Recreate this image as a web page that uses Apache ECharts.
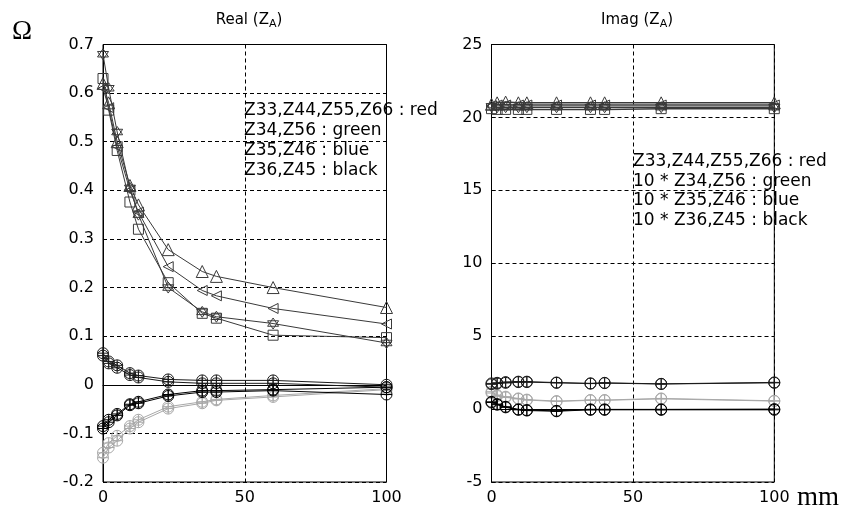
<!DOCTYPE html>
<html><head><meta charset="utf-8">
<script src="https://cdn.jsdelivr.net/npm/echarts@6/dist/echarts.min.js"></script>
<style>html,body{margin:0;padding:0;background:#fff}#c{width:859px;height:515px}</style>
</head><body><div id="c"></div>
<script>
// x positions (mm)
const xPos = [0, 2, 5, 9.5, 12.5, 23, 35, 40, 60, 100];

// Real(Z_A) series
const reTri   = [0.62, 0.58, 0.50, 0.41, 0.37, 0.278, 0.233, 0.223, 0.20, 0.159];
const reLeft  = [0.61, 0.57, 0.49, 0.40, 0.355, 0.243, 0.194, 0.183, 0.157, 0.125];
const reSq    = [0.63, 0.565, 0.482, 0.376, 0.32, 0.21, 0.147, 0.137, 0.102, 0.097];
const reStar  = [0.68, 0.61, 0.52, 0.405, 0.35, 0.20, 0.15, 0.14, 0.126, 0.086];
const reBlue1 = [0.065, 0.048, 0.04, 0.024, 0.019, 0.011, 0.009, 0.009, 0.009, 0.0];
const reBlue2 = [0.06, 0.044, 0.035, 0.02, 0.015, 0.006, 0.003, 0.003, 0.003, -0.005];
const reBlk1  = [-0.09, -0.077, -0.063, -0.042, -0.038, -0.023, -0.015, -0.015, -0.012, -0.02];
const reBlk2  = [-0.085, -0.072, -0.06, -0.04, -0.035, -0.02, -0.012, -0.012, -0.01, -0.005];
const reGrn1  = [-0.15, -0.129, -0.115, -0.09, -0.077, -0.049, -0.038, -0.032, -0.025, -0.01];
const reGrn2  = [-0.14, -0.12, -0.105, -0.085, -0.072, -0.045, -0.035, -0.03, -0.022, -0.008];

// Imag(Z_A) series
const imTri   = [20.9, 21.0, 21.05, 21.0, 21.0, 21.0, 21.0, 21.0, 21.0, 21.0];
const imLeft  = [20.8, 20.85, 20.85, 20.85, 20.85, 20.85, 20.85, 20.85, 20.85, 20.85];
const imSq    = [20.6, 20.55, 20.55, 20.55, 20.55, 20.55, 20.55, 20.55, 20.6, 20.6];
const imStar  = [20.75, 20.7, 20.7, 20.7, 20.7, 20.7, 20.7, 20.7, 20.7, 20.7];
const imBlue1 = [1.76, 1.8, 1.85, 1.88, 1.88, 1.82, 1.76, 1.8, 1.73, 1.83];
const imBlue2 = [1.7, 1.75, 1.8, 1.85, 1.85, 1.8, 1.75, 1.78, 1.72, 1.8];
const imBlk1  = [0.5, 0.34, 0.16, -0.02, -0.07, -0.12, -0.02, -0.02, -0.02, 0.0];
const imBlk2  = [0.45, 0.3, 0.12, -0.05, -0.1, -0.15, -0.05, -0.05, -0.05, -0.05];
const imGrn1  = [1.19, 0.96, 0.85, 0.73, 0.65, 0.55, 0.62, 0.62, 0.73, 0.57];
const imGrn2  = [1.1, 0.9, 0.8, 0.7, 0.62, 0.52, 0.6, 0.6, 0.7, 0.55];

// tick labels
const xTicks = [0, 50, 100];
const reTicks = [-0.2, -0.1, 0, 0.1, 0.2, 0.3, 0.4, 0.5, 0.6, 0.7];
const imTicks = [-5, 0, 5, 10, 15, 20, 25];

const legendRe = ['Z33,Z44,Z55,Z66 : red', 'Z34,Z56 : green', 'Z35,Z46 : blue', 'Z36,Z45 : black'];
const legendIm = ['Z33,Z44,Z55,Z66 : red', '10 * Z34,Z56 : green', '10 * Z35,Z46 : blue', '10 * Z36,Z45 : black'];

const SYM = {
  tri: 'triangle',
  left: 'path://M0,5 L10,0 L10,10 Z',
  sq: 'rect',
  star: 'path://M5,0 L9.33,7.5 L0.67,7.5 Z M5,10 L9.33,2.5 L0.67,2.5 Z',
  cplus: 'path://M10,5 A5,5 0 1,1 0,5 A5,5 0 1,1 10,5 Z M0,5 L10,5 M5,0 L5,10'
};

function mk(vals, idx, sym, color, lw, size) {
  return {
    type: 'line', xAxisIndex: idx, yAxisIndex: idx,
    data: xPos.map((x, i) => [x, vals[i]]),
    symbol: SYM[sym], symbolSize: size || 10, showSymbol: true,
    lineStyle: { color: color, width: lw || 1 },
    itemStyle: { color: 'rgba(0,0,0,0)', borderColor: color, borderWidth: 1 },
    emphasis: { disabled: true }, animation: false, z: 3
  };
}

const DARK = '#3a3a3a', BLK = '#000000', GRAY = '#a8a8a8', BLUE = '#1a1a1a';
const series = [
  mk(reTri, 0, 'tri', DARK, 1, 12), mk(reLeft, 0, 'left', DARK, 1, 10),
  mk(reSq, 0, 'sq', DARK, 1, 10), mk(reStar, 0, 'star', DARK, 1, 11),
  mk(reGrn1, 0, 'cplus', GRAY, 1, 11), mk(reGrn2, 0, 'cplus', GRAY, 1, 11),
  mk(reBlue1, 0, 'cplus', BLUE, 1, 11), mk(reBlue2, 0, 'cplus', BLUE, 1, 11),
  mk(reBlk1, 0, 'cplus', BLK, 1, 11), mk(reBlk2, 0, 'cplus', BLK, 1, 11),
  mk(imTri, 1, 'tri', DARK, 1.5, 12), mk(imLeft, 1, 'left', DARK, 1.5, 10),
  mk(imSq, 1, 'sq', DARK, 1.5, 10), mk(imStar, 1, 'star', DARK, 1.5, 11),
  mk(imGrn1, 1, 'cplus', GRAY, 1, 11), mk(imGrn2, 1, 'cplus', GRAY, 1, 11),
  mk(imBlue1, 1, 'cplus', BLUE, 1, 11), mk(imBlue2, 1, 'cplus', BLUE, 1, 11),
  mk(imBlk1, 1, 'cplus', BLK, 1, 11), mk(imBlk2, 1, 'cplus', BLK, 1, 11)
];

const FONT = 'DejaVu Sans';
const dash = { show: true, lineStyle: { color: '#000', type: [4, 3], width: 1 } };
function xAx(idx) {
  return { type: 'value', gridIndex: idx, min: xTicks[0], max: xTicks[xTicks.length - 1], interval: 50,
    axisLine: { show: true, lineStyle: { color: '#000' } },
    axisTick: { show: true, inside: true, length: 4, lineStyle: { color: '#000' } },
    axisLabel: { color: '#000', fontFamily: FONT, fontSize: 16, margin: 8 },
    splitLine: dash };
}
function yAx(idx, ticks, iv) {
  return { type: 'value', gridIndex: idx, min: ticks[0], max: ticks[ticks.length - 1], interval: iv,
    axisLine: { show: true, lineStyle: { color: '#000' } },
    axisTick: { show: true, inside: true, length: 4, lineStyle: { color: '#000' } },
    axisLabel: { color: '#000', fontFamily: FONT, fontSize: 16, margin: 9,
      formatter: v => String(Math.round(v * 10) / 10) },
    splitLine: dash };
}

const titleStyle = { fontFamily: FONT, fontSize: 15, fontWeight: 'normal', color: '#000',
  rich: { s: { fontFamily: FONT, fontSize: 11, padding: [8, 0, 0, 0], color: '#000' } } };

const chart = echarts.init(document.getElementById('c'), null, { renderer: 'canvas' });
chart.setOption({
  animation: false,
  backgroundColor: '#fff',
  grid: [
    { left: 103, width: 283.5, top: 44.5, height: 437.5, show: true, borderColor: '#000', borderWidth: 1 },
    { left: 491.5, width: 282.8, top: 44.5, height: 437.5, show: true, borderColor: '#000', borderWidth: 1 }
  ],
  xAxis: [xAx(0), xAx(1)],
  yAxis: [yAx(0, reTicks, 0.1), yAx(1, imTicks, 5)],
  title: [
    { text: 'Real (Z{s|A})', left: 244, top: 6, textAlign: 'center', textStyle: titleStyle },
    { text: 'Imag (Z{s|A})', left: 632, top: 6, textAlign: 'center', textStyle: titleStyle }
  ],
  graphic: [
    { type: 'text', left: 244, top: 101, z: 10,
      style: { text: legendRe.join('\n'), font: '17px "DejaVu Sans"', lineHeight: 20, fill: '#000' } },
    { type: 'text', left: 633, top: 152, z: 10,
      style: { text: legendIm.join('\n'), font: '17px "DejaVu Sans"', lineHeight: 19.5, fill: '#000' } },
    { type: 'text', left: 12, top: 18, style: { text: 'Ω', font: '27px "Liberation Serif"', fill: '#000' } },
    { type: 'text', left: 797, top: 484, style: { text: 'mm', font: '27px "Liberation Serif"', fill: '#000' } }
  ],
  series: series
});
</script></body></html>
